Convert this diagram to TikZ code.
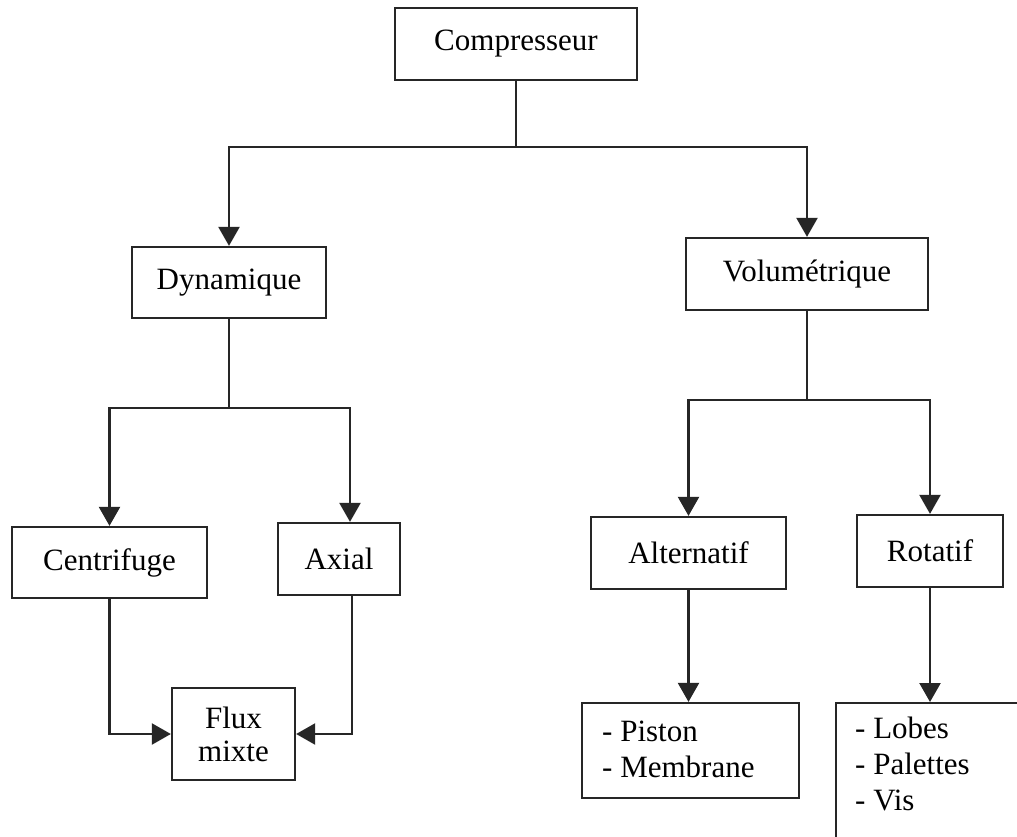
\documentclass[tikz,border=0pt]{standalone}
\usepackage{fontspec}
\setmainfont{Liberation Serif}
\usetikzlibrary{arrows.meta}
\begin{document}
\begin{tikzpicture}[x=1pt,y=-1pt,
 box/.style={draw=black!85, line width=2.3pt, inner sep=0pt, font=\fontsize{31}{36}\selectfont, text=black},
 conn/.style={draw=black!85, line width=2.3pt},
 arr/.style={conn, -{Triangle[width=21pt,length=19pt]}},
 lst/.style={inner sep=0pt, align=left, font=\fontsize{31}{36}\selectfont, text=black, anchor=north west}
]
\useasboundingbox (0,0) rectangle (1017,836);
\clip (0,0) rectangle (1017,836);
\fill[white] (0,0) rectangle (1017,836);

\node[box, minimum width=242pt, minimum height=72pt] (comp) at (516,44) {Compresseur};
\node[box, minimum width=194pt, minimum height=71pt] (dyn) at (229,282.5) {Dynamique};
\node[box, minimum width=242pt, minimum height=72pt] (vol) at (807,274) {Volumétrique};
\node[box, minimum width=195pt, minimum height=71pt] (cent) at (109.5,562.5) {Centrifuge};
\node[box, minimum width=122pt, minimum height=72pt] (axial) at (339,559) {Axial};
\node[box, minimum width=123pt, minimum height=92pt, align=center, font=\fontsize{31}{33}\selectfont] (flux) at (233.5,734) {Flux\\mixte};
\node[box, minimum width=195pt, minimum height=72pt] (alt) at (688.5,553) {Alternatif};
\node[box, minimum width=146pt, minimum height=72pt] (rot) at (930,551) {Rotatif};
\node[box, minimum width=217pt, minimum height=95pt] (pist) at (690.5,750.5) {};
\node[box, minimum width=220pt, minimum height=160pt, anchor=north west] (lob) at (835,702) {};

\node[lst] (pistT) at (602,721) {- Piston\\- Membrane};
\node[lst] (lobT) at (855,717) {- Lobes\\- Palettes\\- Vis};

\coordinate (j1) at (516,147);
\draw[conn] (comp.south) -- (j1);
\draw[arr] (j1) -| (dyn.north);
\draw[arr] (j1) -| (vol.north);
\coordinate (j2) at (229,408);
\draw[conn] (dyn.south) -- (j2);
\draw[arr] (j2) -| (cent.north);
\draw[arr] (j2) -| ([xshift=11pt]axial.north);
\coordinate (j3) at (807,400);
\draw[conn] (vol.south) -- (j3);
\draw[arr] (j3) -| (alt.north);
\draw[arr] (j3) -| (rot.north);
\draw[arr] (cent.south) |- (flux.west);
\draw[arr] ([xshift=13pt]axial.south) |- (flux.east);
\draw[arr] (alt.south) -- (alt.south |- pist.north);
\draw[arr] (rot.south) -- (rot.south |- lob.north);
\end{tikzpicture}
\end{document}
